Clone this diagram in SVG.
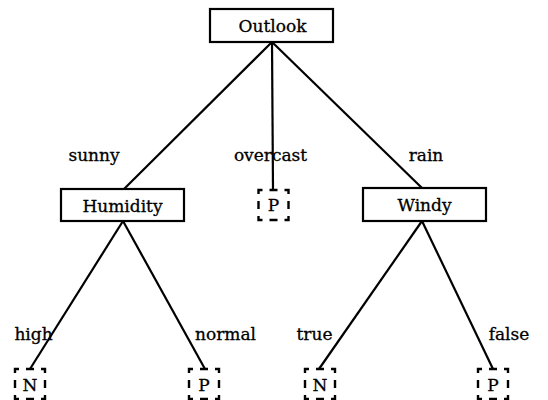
<svg xmlns="http://www.w3.org/2000/svg" width="548" height="400" viewBox="0 0 548 400">
<style>
.box{fill:#fff;stroke:#000;stroke-width:2.2}
.leaf{fill:#fff;stroke:#000;stroke-width:2.4;stroke-dasharray:8,7;stroke-dashoffset:4}
.edge{stroke:#000;stroke-width:2.2;fill:none}
text{font-family:'DejaVu Serif',serif;font-size:17px;fill:#000;stroke:#000;stroke-width:0.3}
.c{text-anchor:middle}
</style>
<rect width="548" height="400" fill="#fff"/>
<g id="connectors" font-family="DejaVu Serif, serif" font-size="17">
<line class="edge" x1="272" y1="42" x2="124" y2="189"/>
<line class="edge" x1="272" y1="42" x2="273" y2="190"/>
<line class="edge" x1="272" y1="42" x2="422" y2="188"/>
<line class="edge" x1="123" y1="221" x2="30" y2="369"/>
<line class="edge" x1="123" y1="221" x2="205" y2="369"/>
<line class="edge" x1="422" y1="221" x2="319" y2="369"/>
<line class="edge" x1="422" y1="221" x2="493" y2="369"/>
<text x="94" y="161" class="c">sunny</text>
<text x="270.5" y="161" class="c">overcast</text>
<text x="426" y="161" class="c">rain</text>
<text x="33.5" y="340" class="c">high</text>
<text x="225.5" y="340" class="c">normal</text>
<text x="314.5" y="340" class="c">true</text>
<text x="509" y="340" class="c">false</text>
</g>
<g font-family="DejaVu Serif, serif" font-size="17">
<g id="outlook"><rect class="box" x="210" y="9" width="123" height="33"/><text class="c" x="272.5" y="32">Outlook</text></g>
<g id="humidity"><rect class="box" x="61" y="189" width="123" height="32"/><text class="c" x="122.5" y="212">Humidity</text></g>
<g id="p-overcast"><rect class="leaf" x="258.5" y="190" width="30" height="30"/><text class="c" x="273.5" y="211">P</text></g>
<g id="windy"><rect class="box" x="363" y="188" width="123" height="33"/><text class="c" x="424.5" y="211">Windy</text></g>
<g id="n-high"><rect class="leaf" x="15" y="369" width="30" height="30"/><text class="c" x="30" y="391">N</text></g>
<g id="p-normal"><rect class="leaf" x="189" y="369" width="30" height="30"/><text class="c" x="204" y="391">P</text></g>
<g id="n-true"><rect class="leaf" x="305" y="369" width="30" height="30"/><text class="c" x="320" y="391">N</text></g>
<g id="p-false"><rect class="leaf" x="478" y="369" width="30" height="30"/><text class="c" x="493" y="391">P</text></g>
</g>
</svg>
